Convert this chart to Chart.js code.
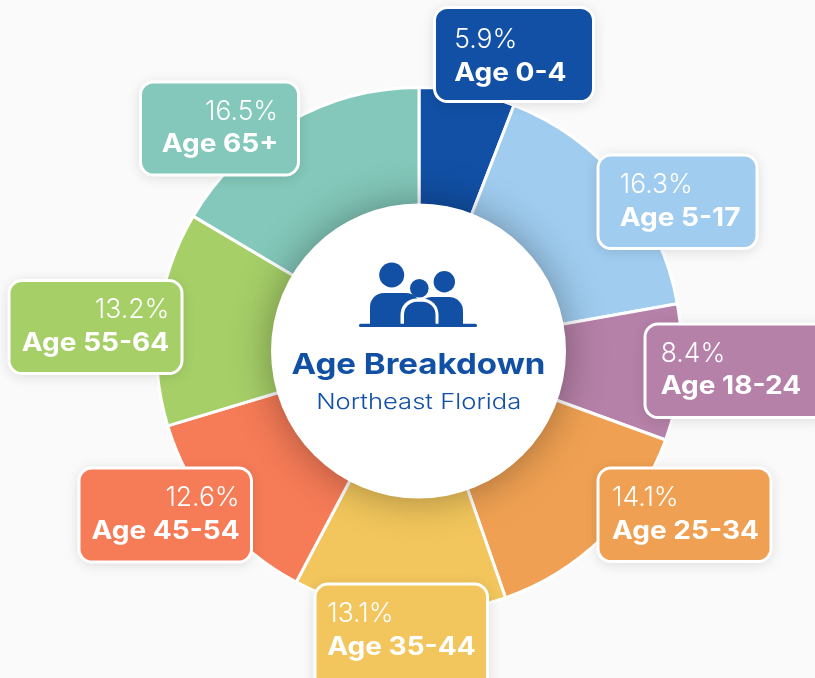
<!DOCTYPE html>
<html><head><meta charset="utf-8">
<style>html,body{margin:0;padding:0;background:#fafafa}canvas{display:block}#w{position:relative;width:815px;height:678px;overflow:hidden}</style>
<script src="https://cdn.jsdelivr.net/npm/chart.js@4"></script></head>
<body><div id="w"><canvas id="c" width="815" height="678"></canvas></div>
<script>
const categories = ["Age 0-4","Age 5-17","Age 18-24","Age 25-34","Age 35-44","Age 45-54","Age 55-64","Age 65+"];
const shares = [5.9,16.3,8.4,14.1,13.1,12.6,13.2,16.5];
const colors = ["#1150A5","#9FCCEF","#B681A8","#EFA052","#F2C65C","#F67B57","#A6CF68","#83C8BA"];
const title = "Age Breakdown";
const subtitle = "Northeast Florida";
const boxes = [
 {x:434.5,y:7.5,w:159,h:94,align:"left",tx:454.2,py:48.3,by:80.7},
 {x:598,y:155,w:159,h:93.5,align:"left",tx:619.7,py:193.3,by:225.7},
 {x:645,y:324,w:185,h:93.5,align:"left",tx:660.7,py:361.7,by:394.3},
 {x:598,y:468,w:173,h:93.5,align:"left",tx:612,py:505.7,by:538.7},
 {x:315,y:584,w:172.5,h:110,align:"left",tx:327.2,py:622.3,by:655},
 {x:79,y:468,w:172.5,h:94,align:"right",tx:239.7,py:505.7,by:538.7},
 {x:9,y:280.5,w:173,h:93,align:"right",tx:169.3,py:318.3,by:351},
 {x:140.5,y:82,w:158,h:93,align:"right",tx:278.2,py:120,by:152.3}
];
function stretched(ctx,text,x,y,font,sx){
 ctx.save();ctx.font=font;ctx.translate(x,y);ctx.scale(sx,1);ctx.fillText(text,0,0);ctx.restore();
}
const overlay = {
 id:"overlay",
 afterDatasetsDraw(chart){
  const ctx=chart.ctx;
  ctx.save();
  ctx.shadowColor="rgba(0,0,0,.34)";ctx.shadowBlur=40;
  ctx.fillStyle="#fff";ctx.beginPath();ctx.arc(418.5,351,147.5,0,Math.PI*2);ctx.fill();
  ctx.shadowColor="transparent";
  const navy="#1150A5";
  ctx.fillStyle=navy;
  const c=(x,y,q)=>{ctx.beginPath();ctx.arc(x,y,q,0,Math.PI*2);ctx.fill();};
  c(391.7,275,12.5);c(444.3,281.7,10.7);c(419.3,288.3,9.3);
  ctx.beginPath();ctx.roundRect(370,293,50,31,[14,14,0,0]);ctx.fill();
  ctx.beginPath();ctx.roundRect(418,297,45,27,[14,14,0,0]);ctx.fill();
  ctx.fillStyle="#fff";ctx.beginPath();ctx.roundRect(400.5,298.5,38,26,[16,16,0,0]);ctx.fill();
  ctx.fillStyle=navy;ctx.beginPath();ctx.roundRect(404,301.7,31.5,22.5,[13,13,0,0]);ctx.fill();
  ctx.beginPath();ctx.roundRect(359,323.7,118,3.3,1.6);ctx.fill();
  ctx.textAlign="center";ctx.textBaseline="alphabetic";
  stretched(ctx,title,418.4,374.3,"700 29px Inter",1.14);
  stretched(ctx,subtitle,418.7,409.3,"300 21.5px Inter",1.19);
  boxes.forEach((b,i)=>{
   ctx.save();
   ctx.shadowColor="rgba(0,0,0,.14)";ctx.shadowBlur=14;ctx.shadowOffsetY=2;
   ctx.beginPath();ctx.roundRect(b.x,b.y,b.w,b.h,13);ctx.fillStyle=colors[i];ctx.fill();
   ctx.shadowColor="transparent";ctx.shadowOffsetY=0;
   ctx.lineWidth=3;ctx.strokeStyle="#fff";ctx.stroke();
   ctx.fillStyle="#fff";ctx.textAlign=b.align;
   stretched(ctx,shares[i].toFixed(1)+"%",b.tx,b.py,"300 26.5px Inter",1.0);
   stretched(ctx,categories[i],b.tx,b.by,"700 25.5px Inter",1.1);
   ctx.restore();
  });
  ctx.restore();
 }
};
new Chart(document.getElementById("c"),{
 type:"doughnut",
 data:{labels:categories,datasets:[{data:shares,backgroundColor:colors,borderColor:"#ffffff",borderWidth:3,borderAlign:"center"}]},
 options:{responsive:false,animation:false,cutout:"50%",
  layout:{padding:{left:155,right:132,top:86,bottom:64}},
  plugins:{legend:{display:false},tooltip:{enabled:false},title:{display:false}}},
 plugins:[overlay]
});
</script></body></html>
